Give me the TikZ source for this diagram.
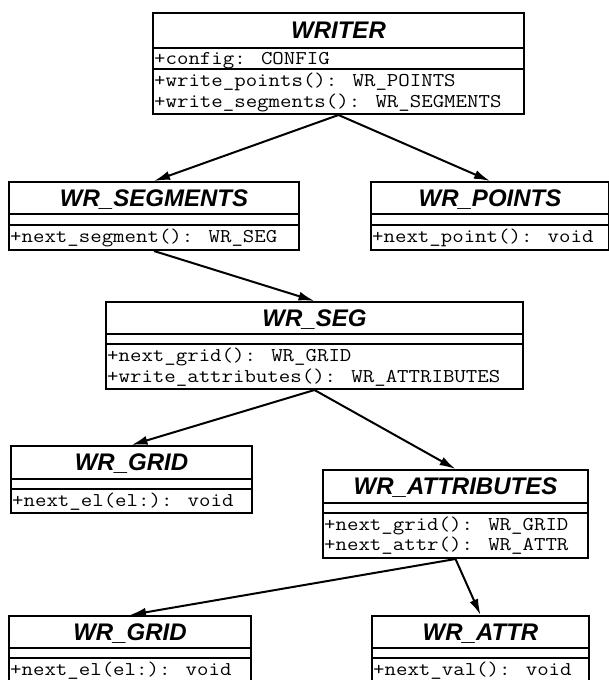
\documentclass[tikz,border=0pt]{standalone}
\usepackage{fontspec}
\setmainfont{Liberation Sans}
\newfontfamily\umlmono[FakeStretch=1.14]{Latin Modern Mono}
\usetikzlibrary{arrows.meta}
\tikzset{
  classbox/.style={draw=black, line width=2pt, inner sep=0pt, anchor=north west, fill=white},
  titletext/.style={font=\fontsize{24}{26}\selectfont\bfseries\itshape, inner sep=0pt, anchor=base},
  membertext/.style={font=\fontsize{19.5}{20}\selectfont\umlmono, inner sep=0pt, anchor=base west},
  divline/.style={draw=black, line width=2pt},
  conn/.style={draw=black, line width=2pt, -{Latex[length=16pt,width=9pt]}}
}
\newcommand\divider[2]{\draw[divline] ([yshift=-#2pt]#1.north west) -- ([yshift=-#2pt]#1.north east);}
\begin{document}
\begin{tikzpicture}[x=1pt,y=-1pt]
\useasboundingbox (0,0) rectangle (609,680);
\fill[white] (0,0) rectangle (609,680);

% boxes
\node[classbox, minimum width=371pt, minimum height=101pt] (writer) at (152,12) {};
\node[classbox, minimum width=290pt, minimum height=68pt] (wrsegments) at (8,181) {};
\node[classbox, minimum width=238pt, minimum height=68pt] (wrpoints) at (370,181) {};
\node[classbox, minimum width=417pt, minimum height=87pt] (wrseg) at (105,301) {};
\node[classbox, minimum width=241pt, minimum height=67pt] (wrgridA) at (10,445) {};
\node[classbox, minimum width=265pt, minimum height=88pt] (wrattributes) at (322,469) {};
\node[classbox, minimum width=242pt, minimum height=72pt] (wrgridB) at (8,615) {};
\node[classbox, minimum width=217pt, minimum height=72pt] (wrattr) at (371,615) {};

% dividers
\divider{writer}{36}\divider{writer}{57}
\divider{wrsegments}{33}\divider{wrsegments}{44}
\divider{wrpoints}{33}\divider{wrpoints}{44}
\divider{wrseg}{33}\divider{wrseg}{43}
\divider{wrgridA}{34}\divider{wrgridA}{44}
\divider{wrattributes}{34}\divider{wrattributes}{44}
\divider{wrgridB}{33}\divider{wrgridB}{43}
\divider{wrattr}{33}\divider{wrattr}{43}

% titles
\node[titletext] (writer-t) at ([yshift=-26pt]writer.north) {WRITER};
\node[titletext] (wrsegments-t) at ([yshift=-25pt]wrsegments.north) {WR\_SEGMENTS};
\node[titletext] (wrpoints-t) at ([yshift=-25pt]wrpoints.north) {WR\_POINTS};
\node[titletext] (wrseg-t) at ([yshift=-25pt]wrseg.north) {WR\_SEG};
\node[titletext] (wrgridA-t) at ([yshift=-25pt]wrgridA.north) {WR\_GRID};
\node[titletext] (wrattributes-t) at ([yshift=-25pt]wrattributes.north) {WR\_ATTRIBUTES};
\node[titletext] (wrgridB-t) at ([yshift=-25pt]wrgridB.north) {WR\_GRID};
\node[titletext] (wrattr-t) at ([yshift=-25pt]wrattr.north) {WR\_ATTR};

% members
\node[membertext] (writer-a) at ([xshift=2pt,yshift=-52pt]writer.north west) {+config: CONFIG};
\node[membertext] (writer-m1) at ([xshift=2pt,yshift=-74pt]writer.north west) {+write\_points(): WR\_POINTS};
\node[membertext] (writer-m2) at ([xshift=2pt,yshift=-95pt]writer.north west) {+write\_segments(): WR\_SEGMENTS};
\node[membertext] (wrsegments-m1) at ([xshift=2pt,yshift=-61pt]wrsegments.north west) {+next\_segment(): WR\_SEG};
\node[membertext] (wrpoints-m1) at ([xshift=2pt,yshift=-61pt]wrpoints.north west) {+next\_point(): void};
\node[membertext] (wrseg-m1) at ([xshift=2pt,yshift=-60pt]wrseg.north west) {+next\_grid(): WR\_GRID};
\node[membertext] (wrseg-m2) at ([xshift=2pt,yshift=-81pt]wrseg.north west) {+write\_attributes(): WR\_ATTRIBUTES};
\node[membertext] (wrgridA-m1) at ([xshift=2pt,yshift=-61pt]wrgridA.north west) {+next\_el(el:): void};
\node[membertext] (wrattributes-m1) at ([xshift=2pt,yshift=-61pt]wrattributes.north west) {+next\_grid(): WR\_GRID};
\node[membertext] (wrattributes-m2) at ([xshift=2pt,yshift=-81pt]wrattributes.north west) {+next\_attr(): WR\_ATTR};
\node[membertext] (wrgridB-m1) at ([xshift=2pt,yshift=-60pt]wrgridB.north west) {+next\_el(el:): void};
\node[membertext] (wrattr-m1) at ([xshift=2pt,yshift=-60pt]wrattr.north west) {+next\_val(): void};

% connectors
\draw[conn] (writer.south) -- (wrsegments.north);
\draw[conn] (writer.south) -- (wrpoints.north);
\draw[conn] (wrsegments.south) -- (wrseg.north);
\draw[conn] (wrseg.south) -- (wrgridA.north);
\draw[conn] (wrseg.south) -- (wrattributes.north);
\draw[conn] (wrattributes.south) -- (wrgridB.north);
\draw[conn] (wrattributes.south) -- (wrattr.north);
\end{tikzpicture}
\end{document}
